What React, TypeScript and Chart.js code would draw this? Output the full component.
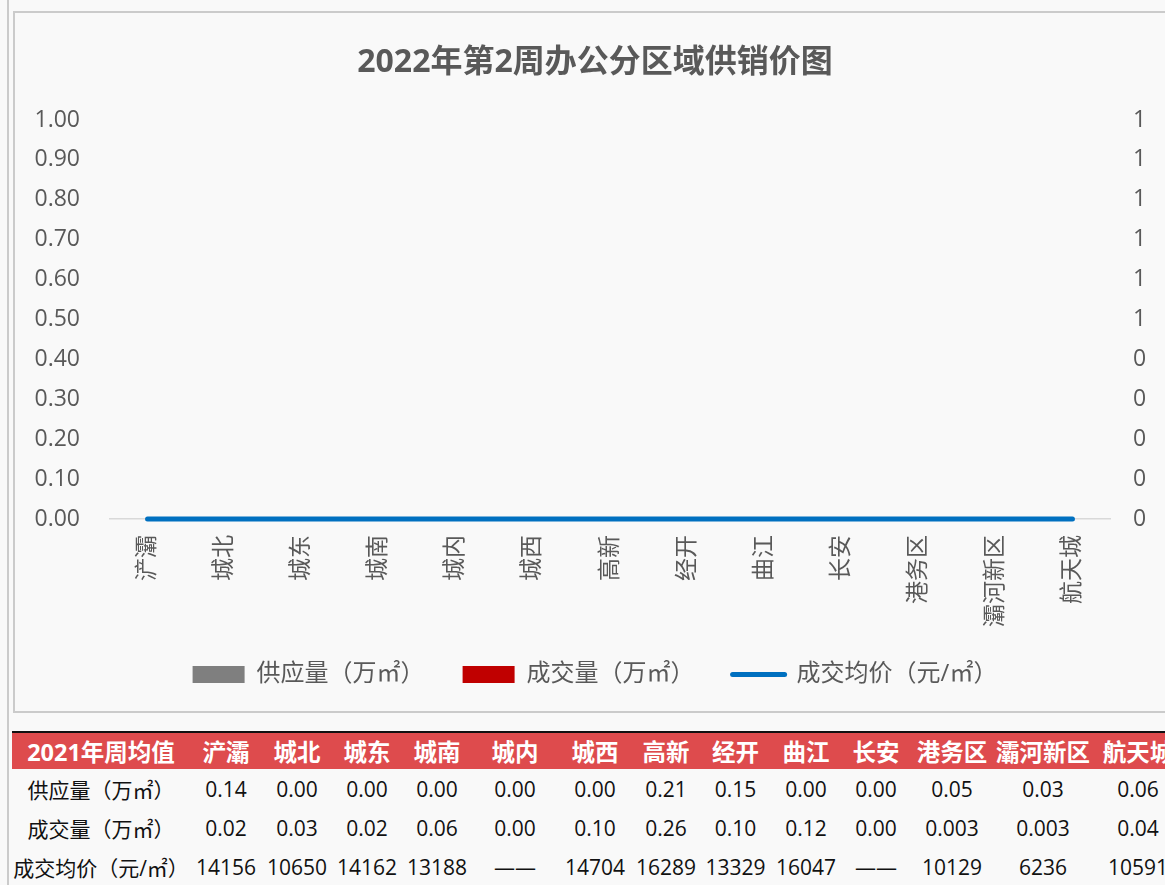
import React, { useEffect, useRef } from "react";
import { Chart, registerables } from "chart.js";

Chart.register(...registerables);

const districts = ["浐灞", "城北", "城东", "城南", "城内", "城西", "高新", "经开", "曲江", "长安", "港务区", "灞河新区", "航天城"];
const supplyWeek = [0, 0, 0, 0, 0, 0, 0, 0, 0, 0, 0, 0, 0];
const dealWeek = [0, 0, 0, 0, 0, 0, 0, 0, 0, 0, 0, 0, 0];
const priceWeek = [0, 0, 0, 0, 0, 0, 0, 0, 0, 0, 0, 0, 0];

const seriesLabels = ["供应量（万㎡）", "成交量（万㎡）", "成交均价（元/㎡）"];
const chartTitle = "2022年第2周办公分区域供销价图";

const tableHeader = "2021年周均值";
const avgSupply = ["0.14", "0.00", "0.00", "0.00", "0.00", "0.00", "0.21", "0.15", "0.00", "0.00", "0.05", "0.03", "0.06"];
const avgDeal = ["0.02", "0.03", "0.02", "0.06", "0.00", "0.10", "0.26", "0.10", "0.12", "0.00", "0.003", "0.003", "0.04"];
const avgPrice = ["14156", "10650", "14162", "13188", "——", "14704", "16289", "13329", "16047", "——", "10129", "6236", "10591"];

const colWidths = [178, 72, 70, 70, 70, 86, 74, 68, 71, 70, 70, 82, 100, 90];

const FONT = '"Open Sans", "Noto Sans CJK SC", sans-serif';
const TXT = "#595959";

export default function App() {
  const ref = useRef<HTMLCanvasElement | null>(null);

  useEffect(() => {
    const canvas = ref.current;
    if (!canvas) return;
    const chart = new Chart(canvas, {
      type: "bar",
      data: {
        labels: districts,
        datasets: [
          { type: "bar", label: seriesLabels[0], data: supplyWeek, yAxisID: "y", backgroundColor: "#7f7f7f", borderWidth: 0, order: 1 },
          { type: "bar", label: seriesLabels[1], data: dealWeek, yAxisID: "y", backgroundColor: "#c00000", borderWidth: 0, order: 2 },
          { type: "line", label: seriesLabels[2], data: priceWeek, yAxisID: "y1", borderColor: "#0070c0", backgroundColor: "#0070c0", borderWidth: 5, pointRadius: 0, borderCapStyle: "round", clip: false, order: 0 } as any,
        ],
      },
      options: {
        responsive: false,
        animation: false,
        layout: { padding: { left: 0, right: 0, top: 0, bottom: 14.5 } },
        plugins: {
          title: {
            display: true,
            text: chartTitle,
            color: TXT,
            font: { family: FONT, size: 32, weight: "bold", lineHeight: 1.2 },
            padding: { top: 31, bottom: 37.6 },
          },
          legend: {
            position: "bottom",
            labels: {
              color: TXT,
              font: { family: FONT, size: 24 },
              usePointStyle: true,
              pointStyleWidth: 52,
              boxHeight: 17,
              padding: 38,
              sort: (a: any, b: any) => a.datasetIndex - b.datasetIndex,
              generateLabels: (c: any) =>
                Chart.defaults.plugins.legend.labels.generateLabels(c).map((l: any) => {
                  const isLine = l.datasetIndex === 2;
                  return {
                    ...l,
                    pointStyle: isLine ? "line" : "rect",
                    lineWidth: isLine ? 5 : 0,
                    lineCap: "round",
                    strokeStyle: isLine ? "#0070c0" : l.fillStyle,
                  };
                }),
            },
          },
          tooltip: { enabled: false },
        },
        scales: {
          x: {
            grid: { display: false, drawTicks: false },
            border: { display: false },
            ticks: {
              color: TXT,
              font: { family: FONT, size: 23 },
              minRotation: 90,
              maxRotation: 90,
              autoSkip: false,
              padding: 16,
            },
            afterFit: (s: any) => {
              s.height = 105.5;
              s._computeLabelArea = () => undefined;
            },
          },
          y: {
            position: "left",
            min: 0,
            max: 1,
            grid: {
              drawTicks: false,
              color: (c: any) => (c.tick && c.tick.value === 0 ? "#d9d9d9" : "rgba(0,0,0,0)"),
              lineWidth: 1.5,
            },
            border: { display: false },
            ticks: {
              stepSize: 0.1,
              color: TXT,
              font: { family: FONT, size: 23 },
              padding: 29,
              callback: (v: any) => Number(v).toFixed(2),
            },
            afterFit: (s: any) => { s.width = 94; },
          },
          y1: {
            position: "right",
            min: 0,
            max: 1,
            grid: { display: false, drawTicks: false },
            border: { display: false },
            ticks: {
              stepSize: 0.1,
              color: TXT,
              font: { family: FONT, size: 23 },
              padding: 22,
              callback: (v: any) => String(Math.round(Number(v) + 1e-9)),
            },
            afterFit: (s: any) => { s.width = 64; },
          },
        },
      },
    });
    return () => chart.destroy();
  }, []);

  const cellBase: React.CSSProperties = { padding: 0, textAlign: "center", whiteSpace: "nowrap", overflow: "visible" };
  const rows = [
    { label: seriesLabels[0], vals: avgSupply },
    { label: seriesLabels[1], vals: avgDeal },
    { label: seriesLabels[2], vals: avgPrice },
  ];

  return (
    <div style={{ position: "absolute", left: 0, top: 0, width: 1165, height: 885, overflow: "hidden", background: "#f9f9f9", fontFamily: FONT }}>
      <div style={{ position: "absolute", left: 7, top: 0, width: 2, height: 885, background: "#cbcbcb" }} />
      <div style={{ position: "absolute", left: 13, top: 11, width: 1160, height: 698, border: "2px solid #cbcbcb", background: "#f9f9f9" }}>
        <canvas ref={ref} width={1160} height={698} style={{ display: "block", width: 1160, height: 698 }} />
      </div>
      <table style={{ position: "absolute", left: 12, top: 731, borderCollapse: "collapse", tableLayout: "fixed", width: colWidths.reduce((a, b) => a + b, 0), borderTop: "2.5px solid #111" }}>
        <colgroup>
          {colWidths.map((w, i) => (<col key={i} style={{ width: w }} />))}
        </colgroup>
        <tbody>
          <tr style={{ height: 37, background: "#de4b4d", color: "#fff", fontWeight: "bold", fontSize: 23.5 }}>
            <td style={cellBase}>{tableHeader}</td>
            {districts.map((d) => (<td key={d} style={cellBase}>{d}</td>))}
          </tr>
          {rows.map((r) => (
            <tr key={r.label} style={{ height: 39, color: "#111", fontSize: 21 }}>
              <td style={cellBase}>{r.label}</td>
              {r.vals.map((v, i) => (<td key={i} style={cellBase}>{v}</td>))}
            </tr>
          ))}
        </tbody>
      </table>
    </div>
  );
}
